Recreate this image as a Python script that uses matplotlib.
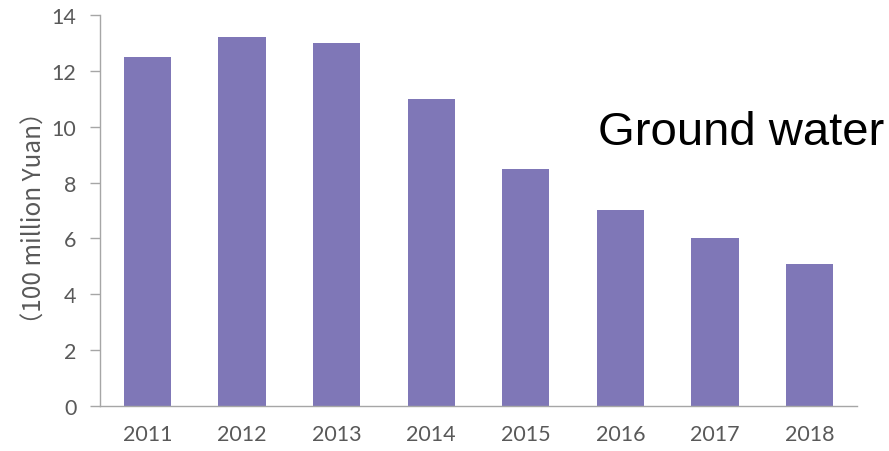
import matplotlib
matplotlib.use("Agg")
import matplotlib.pyplot as plt

# data
years = ['2011', '2012', '2013', '2014', '2015', '2016', '2017', '2018']
values = [12.5, 13.2, 13.0, 11.0, 8.5, 7.0, 6.0, 5.1]

bar_color = '#7f77b7'
axis_color = '#a6a6a6'
text_color = '#595959'

fig = plt.figure(figsize=(8.89, 4.52), dpi=100)
ax = fig.add_axes([0.1125, 0.0996, 0.8515, 0.865])

x = range(len(years))
ax.bar(x, values, width=0.5, color=bar_color, zorder=2)

ax.set_xlim(-0.5, len(years) - 0.5)
ax.set_ylim(0, 14)
ax.set_yticks(range(0, 15, 2))
ax.set_xticks(list(x))
ax.set_xticklabels(years)

for s in ['top', 'right']:
    ax.spines[s].set_visible(False)
for s in ['left', 'bottom']:
    ax.spines[s].set_color(axis_color)
    ax.spines[s].set_linewidth(1.0)

ax.tick_params(axis='x', length=0, pad=13, labelsize=15.5, labelcolor=text_color)
ax.tick_params(axis='y', length=7, width=1.0, color=axis_color, pad=10,
               labelsize=15.5, labelcolor=text_color)
for lab in ax.get_xticklabels() + ax.get_yticklabels():
    lab.set_family(['Lato', 'DejaVu Sans'])

ax.set_ylabel('（100 million Yuan）', fontsize=17.5, color=text_color,
              family=['Noto Sans CJK SC', 'DejaVu Sans'])
ax.yaxis.set_label_coords(-0.069, 0.483)

ax.text(598 / 889, (452 - 145) / 452, 'Ground water', transform=fig.transFigure,
        fontsize=34, family=['Liberation Sans', 'DejaVu Sans'], color='black',
        ha='left', va='baseline')

fig.savefig('out.png', dpi=100)
